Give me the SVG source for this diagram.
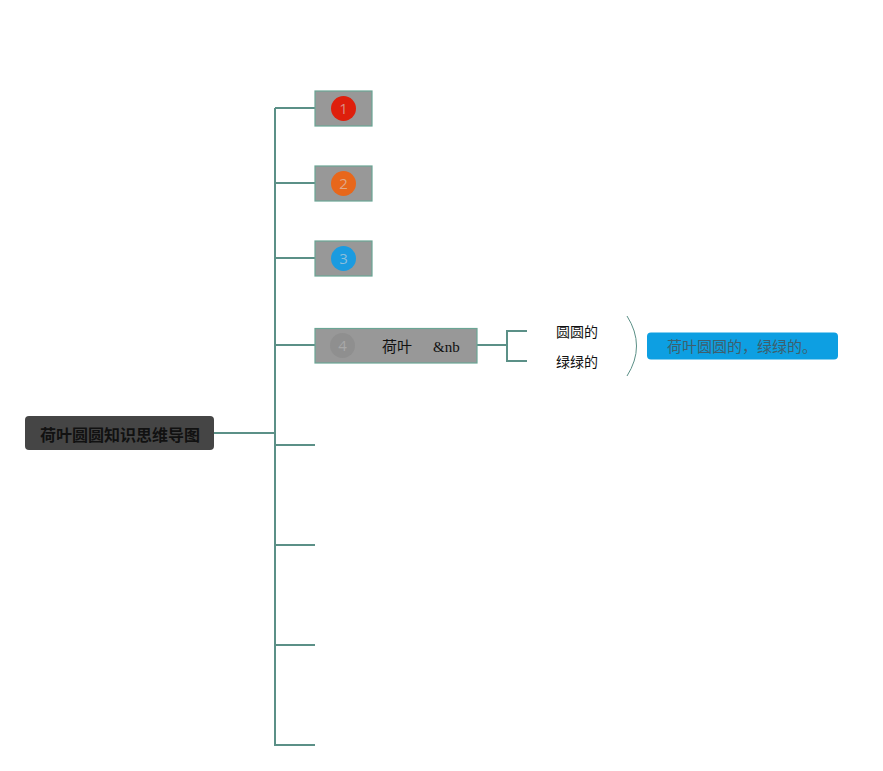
<svg xmlns="http://www.w3.org/2000/svg" width="883" height="771" viewBox="0 0 883 771">
<style>
.ln{fill:none;stroke:#5b9087;stroke-width:2}
.box{fill:#989898;stroke:#6aa594;stroke-width:1.2}
.num{font-family:"Open Sans","Liberation Sans",sans-serif;font-size:15px;text-anchor:middle;fill-opacity:0.6;fill:#d8d8d8}
.cjk{font-family:"Noto Sans CJK SC","Noto Sans",sans-serif}
</style>
<rect width="883" height="771" fill="#ffffff"/>
<g id="connectors">
<path class="ln" d="M214 433H275"/>
<path class="ln" d="M275 108V746"/>
<path class="ln" d="M275 108H315M275 183H315M275 258H315M275 345H315M275 445H315M275 545H315M275 645H315M275 745H315"/>
<path class="ln" d="M477 345H507M527 331H507V361H527"/>
<path d="M627 316Q646 346 627 376" fill="none" stroke="#5b9087" stroke-width="1"/>
</g>
<g id="root">
<rect x="25" y="416" width="189" height="34" rx="4" fill="#454545"/>
<text x="120" y="441" class="cjk" font-size="16" font-weight="bold" text-anchor="middle" fill="#111111">荷叶圆圆知识思维导图</text>
</g>
<g id="node1">
<rect class="box" x="315" y="91" width="57" height="35"/>
<circle cx="343.5" cy="108.5" r="12.5" fill="#de1f0c"/>
<text class="num" x="343.5" y="114">1</text>
</g>
<g id="node2">
<rect class="box" x="315" y="166" width="57" height="35"/>
<circle cx="343.5" cy="183.5" r="12.5" fill="#e8671b"/>
<text class="num" x="343.5" y="189">2</text>
</g>
<g id="node3">
<rect class="box" x="315" y="241" width="57" height="35"/>
<circle cx="343.5" cy="258.5" r="12.5" fill="#1b9be0"/>
<text class="num" x="343.5" y="264">3</text>
</g>
<g id="node4">
<rect class="box" x="315" y="328.5" width="162" height="34.5"/>
<circle cx="342.5" cy="345.5" r="12.5" fill="#8f8f8f"/>
<text class="num" x="342.5" y="351" style="fill:#a8a8a8;fill-opacity:1">4</text>
<text x="382" y="352" class="cjk" font-size="15" fill="#111111">荷叶</text>
<text x="433" y="352" font-family="Liberation Serif,serif" font-size="15" fill="#111111">&amp;nb</text>
</g>
<g id="sub1">
<text x="556" y="337" class="cjk" font-size="14" fill="#111111">圆圆的</text>
</g>
<g id="sub2">
<text x="556" y="367" class="cjk" font-size="14" fill="#111111">绿绿的</text>
</g>
<g id="summary">
<rect x="647" y="332.5" width="191" height="27" rx="4" fill="#0d9fe2"/>
<text x="742" y="351.5" class="cjk" font-size="15" text-anchor="middle" fill="#3e5f6e">荷叶圆圆的，绿绿的。</text>
</g>
</svg>
